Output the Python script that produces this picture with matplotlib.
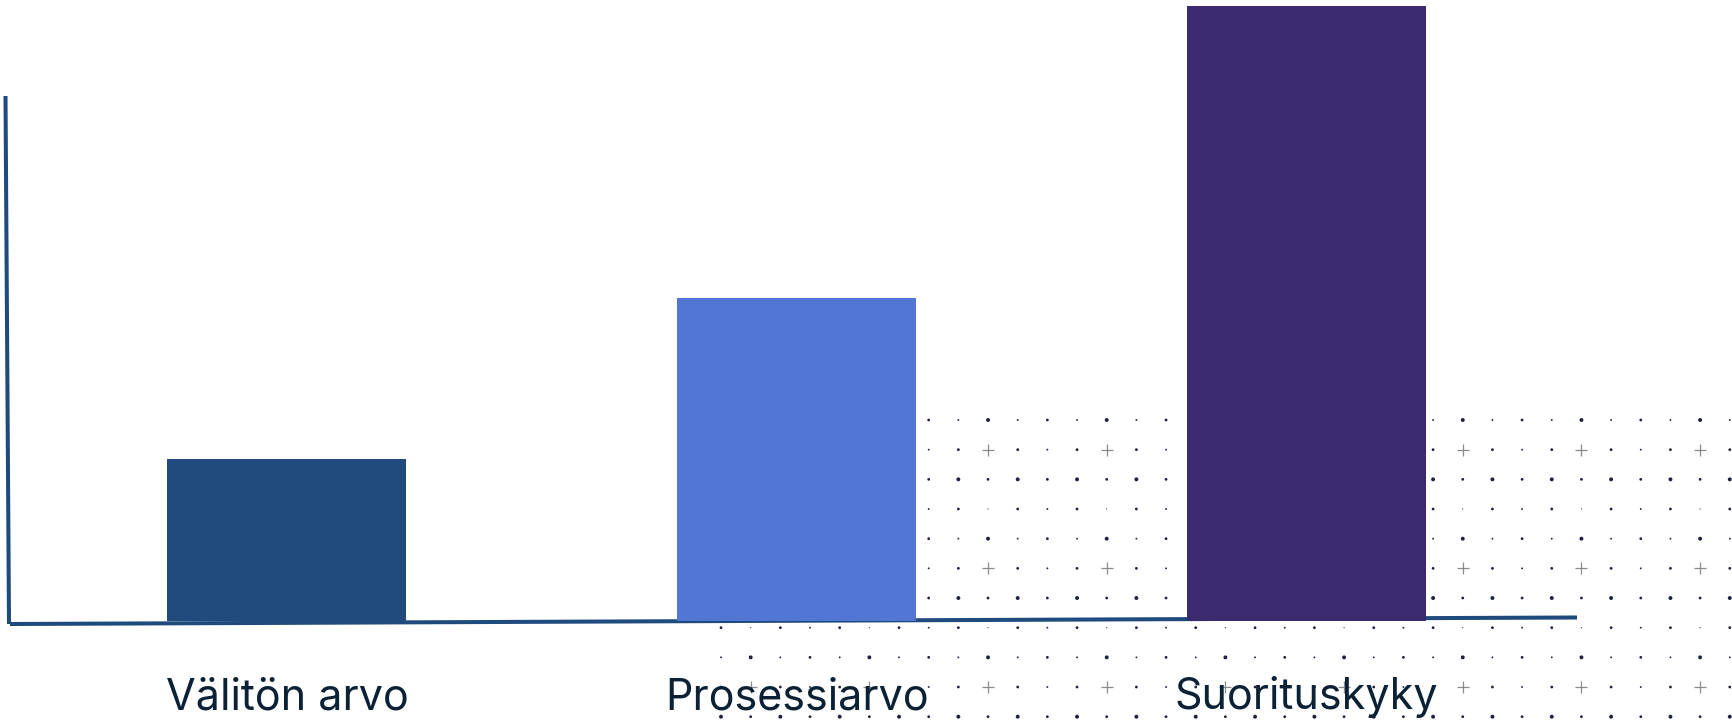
import numpy as np
import matplotlib
matplotlib.use("Agg")
import matplotlib.pyplot as plt

# ---- data ----
categories = ["Välitön arvo", "Prosessiarvo", "Suorituskyky"]
values = [26, 52, 99]
bar_colors = ["#214a7d", "#5176d4", "#3c2a6f"]

W, H, DPI = 1733, 721, 100
fig = plt.figure(figsize=(W / DPI, H / DPI), dpi=DPI)
fig.patch.set_facecolor("white")

# ---- background decoration (pixel coordinates) ----
bg = fig.add_axes([0, 0, 1, 1], zorder=0)
bg.set_xlim(0, W)
bg.set_ylim(H, 0)
bg.axis("off")

step = 29.67
x0, y0 = 721, 420
ncol, nrow = 35, 11
size_map = {"L": 8.0, "M": 4.0, "S": 1.8, "T": 0.7}
tile = [["X", "M", "S", "M"],
        ["M", "L", "M", "L"],
        ["T", "M", "S", "M"],
        ["L", "S", "M", "S"]]
dx, dy, ds, cx, cy = [], [], [], [], []
for r in range(nrow):
    for c in range(ncol):
        kind = tile[(r - 1) % 4][(c - 1) % 4]
        px, py = x0 + c * step, y0 + r * step
        if kind == "X":
            cx.append(px); cy.append(py)
        else:
            dx.append(px); dy.append(py); ds.append(size_map[kind])
bg.scatter(dx, dy, s=ds, color="#1e2140", linewidths=0)
bg.scatter(cx, cy, s=75, marker="+", color="#8a8a8a", linewidths=0.9)

# hand-drawn style axis lines
axis_col = "#1f4a7c"
bg.plot([10, 1577], [624, 617.5], color=axis_col, lw=2.9, solid_capstyle="butt")
bg.plot([5.5, 9], [96, 624], color=axis_col, lw=2.9, solid_capstyle="butt")

# ---- bars ----
ax = fig.add_axes([0, 0, 1, 1], zorder=1)
ax.patch.set_alpha(0)
unit_x = 509.75
cx0 = 287
ax.set_xlim(-cx0 / unit_x, (W - cx0) / unit_x)
base_px = 621
unit_y = 6.217
ax.set_ylim(-(H - base_px) / unit_y, base_px / unit_y)
ax.axis("off")

xpos = np.arange(len(categories))
ax.bar(xpos, values, width=239 / unit_x, color=bar_colors, zorder=2)

label_y = -(709 - base_px) / unit_y
for x, lab in zip(xpos, categories):
    ax.text(x, label_y, lab, ha="center", va="baseline", fontsize=31,
            family=["Inter", "DejaVu Sans"], color="#0b2236", zorder=3)

fig.savefig("out.png", dpi=DPI, facecolor="white")
